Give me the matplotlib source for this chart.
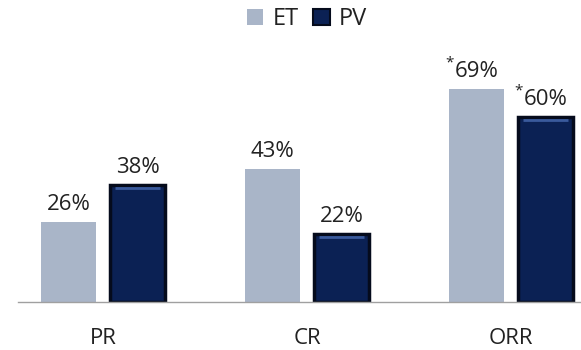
import matplotlib
matplotlib.use("Agg")
import matplotlib.pyplot as plt
from matplotlib.patches import Patch
import numpy as np

plt.rcParams['font.family'] = ['Open Sans', 'DejaVu Sans']

categories = ["PR", "CR", "ORR"]
series_names = ["ET", "PV"]
et_values = [26, 43, 69]
pv_values = [38, 22, 60]
et_marks = ["", "", "*"]
pv_marks = ["", "", "*"]

et_color = "#A9B5C8"
pv_face = "#0B2154"
pv_edge = "#050B1C"
pv_light = "#3A5A9C"
text_color = "#222222"

fig = plt.figure(figsize=(5.81, 3.5), dpi=100)
ax = fig.add_axes([18 / 581, (350 - 302) / 350, 563 / 581, (302 - 40) / 350])

x = np.arange(len(categories))
width = 0.272
offset = 0.169

ax.bar(x - offset, et_values, width, color=et_color, edgecolor="none", zorder=2)
ax.bar(x + offset, pv_values, width, color=pv_face, edgecolor=pv_edge,
       linewidth=2.5, zorder=2)
# bevel highlight along the top of each dark bar
for xi, v in zip(x, pv_values):
    ax.plot([xi + offset - width / 2 + 0.025, xi + offset + width / 2 - 0.025],
            [v - 1.1, v - 1.1], color=pv_light, lw=2.0, zorder=3,
            solid_capstyle="butt")

def label(xc, v, mark):
    ax.annotate(f"{v}%", (xc, v), xytext=(0, 5), textcoords="offset points",
                ha="center", va="bottom", fontsize=16, color=text_color)
    if mark:
        ax.annotate(mark, (xc, v), xytext=(-16.5, 24), textcoords="offset points",
                    ha="right", va="top", fontsize=11, color=text_color)

for xi, v, m in zip(x, et_values, et_marks):
    label(xi - offset, v, m)
for xi, v, m in zip(x, pv_values, pv_marks):
    label(xi + offset, v, m)

ax.set_xlim(-85 / 204, -85 / 204 + 563 / 204)
ax.set_ylim(0, (302 - 40) / 3.087)
ax.set_yticks([])
ax.set_xticks(x)
ax.set_xticklabels(categories, fontsize=16, color=text_color)
ax.tick_params(axis="x", length=0, pad=19)
for s in ["top", "right", "left"]:
    ax.spines[s].set_visible(False)
ax.spines["bottom"].set_color("#A0A0A0")
ax.spines["bottom"].set_linewidth(1.0)

handles = [Patch(facecolor=et_color, edgecolor="none"),
           Patch(facecolor=pv_face, edgecolor=pv_edge, linewidth=1.5)]
fig.legend(handles, series_names, loc="center", bbox_to_anchor=(307 / 581, 1 - 19 / 350),
           ncol=2, frameon=False, fontsize=17, handlelength=0.68, handleheight=0.68,
           handletextpad=0.38, columnspacing=0.64, labelcolor=text_color,
           borderpad=0)

fig.savefig("out.png", dpi=100)
